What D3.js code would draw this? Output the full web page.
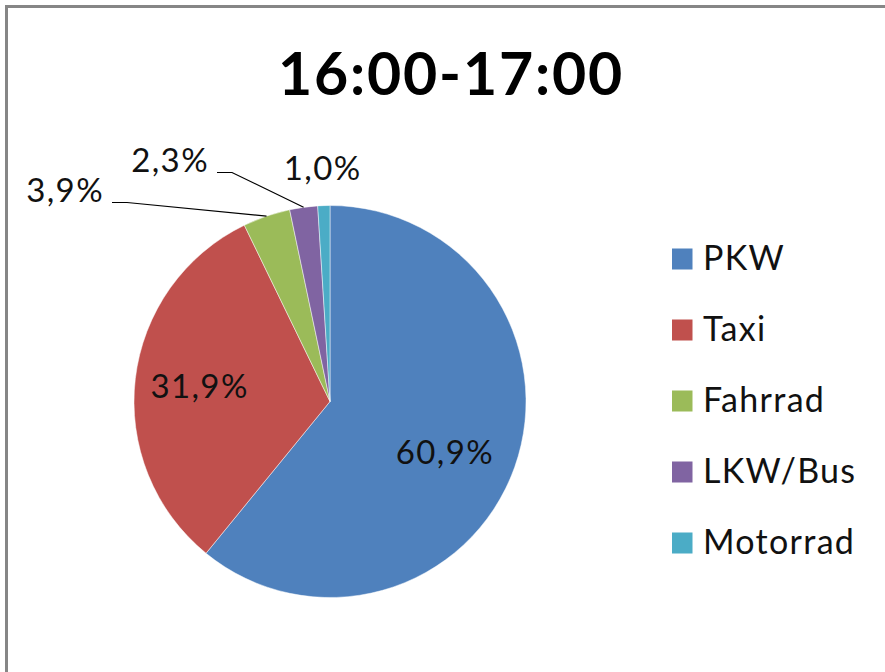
<!DOCTYPE html>
<html><head><meta charset="utf-8">
<script src="https://cdn.jsdelivr.net/npm/d3@7"></script>
<style>
html,body{margin:0;padding:0;background:#fff;}
svg{display:block;font-family:Lato,"Open Sans",sans-serif;}
</style></head>
<body>
<svg id="chart" width="885" height="672"></svg>
<script>
// ---- data ----
const title = "16:00-17:00";
const categories = ["PKW", "Taxi", "Fahrrad", "LKW/Bus", "Motorrad"];
const values = [60.9, 31.9, 3.9, 2.3, 1.0];
const colors = ["#4F81BD", "#C0504D", "#9BBB59", "#8064A2", "#4BACC6"];

// ---- layout (style, not data) ----
const W = 885, H = 672;
const cx = 330, cy = 401.5, R = 196;
const insideLabels = { "PKW": { r: 0.64, da: 4 }, "Taxi": { r: 0.67, da: 0 } }; // radius fraction, angle shift (deg)
const leaderLabels = { "Fahrrad": [104, 202], "LKW/Bus": [209, 172] };          // text end anchor
const aboveLabels = { "Motorrad": 38 };                                          // extra radius

const svg = d3.select("#chart");
svg.append("rect").attr("width", W).attr("height", H).attr("fill", "#fff");
// frame
svg.append("rect").attr("x", 6.5).attr("y", 6.5).attr("width", W + 20).attr("height", H + 20)
  .attr("fill", "none").attr("stroke", "#868686").attr("stroke-width", 3);

// title
svg.append("text").attr("x", 451).attr("y", 95).attr("text-anchor", "middle")
  .attr("font-weight", "bold").attr("font-size", 59).attr("letter-spacing", "1.8px")
  .attr("fill", "#000").text(title);

const data = categories.map((c, i) => ({ cat: c, value: values[i], color: colors[i] }));
const pie = d3.pie().value(d => d.value).sort(null);
const arcs = pie(data);
const arc = d3.arc().innerRadius(0).outerRadius(R);
const fmt = v => d3.format(".1f")(v).replace(".", ",") + "%";

const g = svg.append("g").attr("transform", `translate(${cx},${cy})`);
g.selectAll("path.slice").data(arcs).join("path").attr("class", "slice")
  .attr("d", arc).attr("fill", d => d.data.color)
  .attr("stroke", "#ffffff").attr("stroke-width", 0.8).attr("stroke-opacity", 0.6);

const labelFont = 33, labelLS = "1.4px", labelColor = "#111";

// inside labels
arcs.filter(a => insideLabels[a.data.cat] !== undefined).forEach(a => {
  const o = insideLabels[a.data.cat];
  const r = R * o.r, shift = o.da * Math.PI / 180;
  const [x, y] = d3.arc().innerRadius(r).outerRadius(r)
    .centroid({ startAngle: a.startAngle + shift, endAngle: a.endAngle + shift });
  g.append("text").attr("x", x).attr("y", y).attr("text-anchor", "middle")
    .attr("dy", "0.36em").attr("font-size", labelFont).attr("letter-spacing", labelLS)
    .attr("fill", labelColor).text(fmt(a.data.value));
});

// leader labels
arcs.filter(a => leaderLabels[a.data.cat] !== undefined).forEach(a => {
  const [tx, ty] = leaderLabels[a.data.cat];
  const [ax, ay] = d3.arc().innerRadius(R).outerRadius(R).centroid(a);
  svg.append("text").attr("x", tx).attr("y", ty).attr("text-anchor", "end")
    .attr("font-size", labelFont).attr("letter-spacing", labelLS)
    .attr("fill", labelColor).text(fmt(a.data.value));
  const sx = tx + 8, sy = ty + 0.5;
  const pts = [[sx, sy], [sx + 15, sy], [cx + ax, cy + ay]];
  svg.append("path").attr("d", d3.line()(pts)).attr("fill", "none")
    .attr("stroke", "#000").attr("stroke-width", 1.2);
});

// labels just outside the slice
arcs.filter(a => aboveLabels[a.data.cat] !== undefined).forEach(a => {
  const r = R + aboveLabels[a.data.cat];
  const [x, y] = d3.arc().innerRadius(r).outerRadius(r).centroid(a);
  g.append("text").attr("x", x).attr("y", y).attr("text-anchor", "middle")
    .attr("dy", "0.36em").attr("font-size", labelFont).attr("letter-spacing", labelLS)
    .attr("fill", labelColor).text(fmt(a.data.value));
});

// legend
const legY = d3.scalePoint().domain(categories).range([270, 554]);
const leg = svg.append("g");
categories.forEach((c, i) => {
  leg.append("rect").attr("x", 672).attr("y", legY(c) - 21.5).attr("width", 20.5).attr("height", 21)
    .attr("fill", colors[i]);
  leg.append("text").attr("x", 703).attr("y", legY(c)).attr("font-size", 34)
    .attr("letter-spacing", "1.3px").attr("fill", labelColor).text(c);
});
</script>
</body></html>
